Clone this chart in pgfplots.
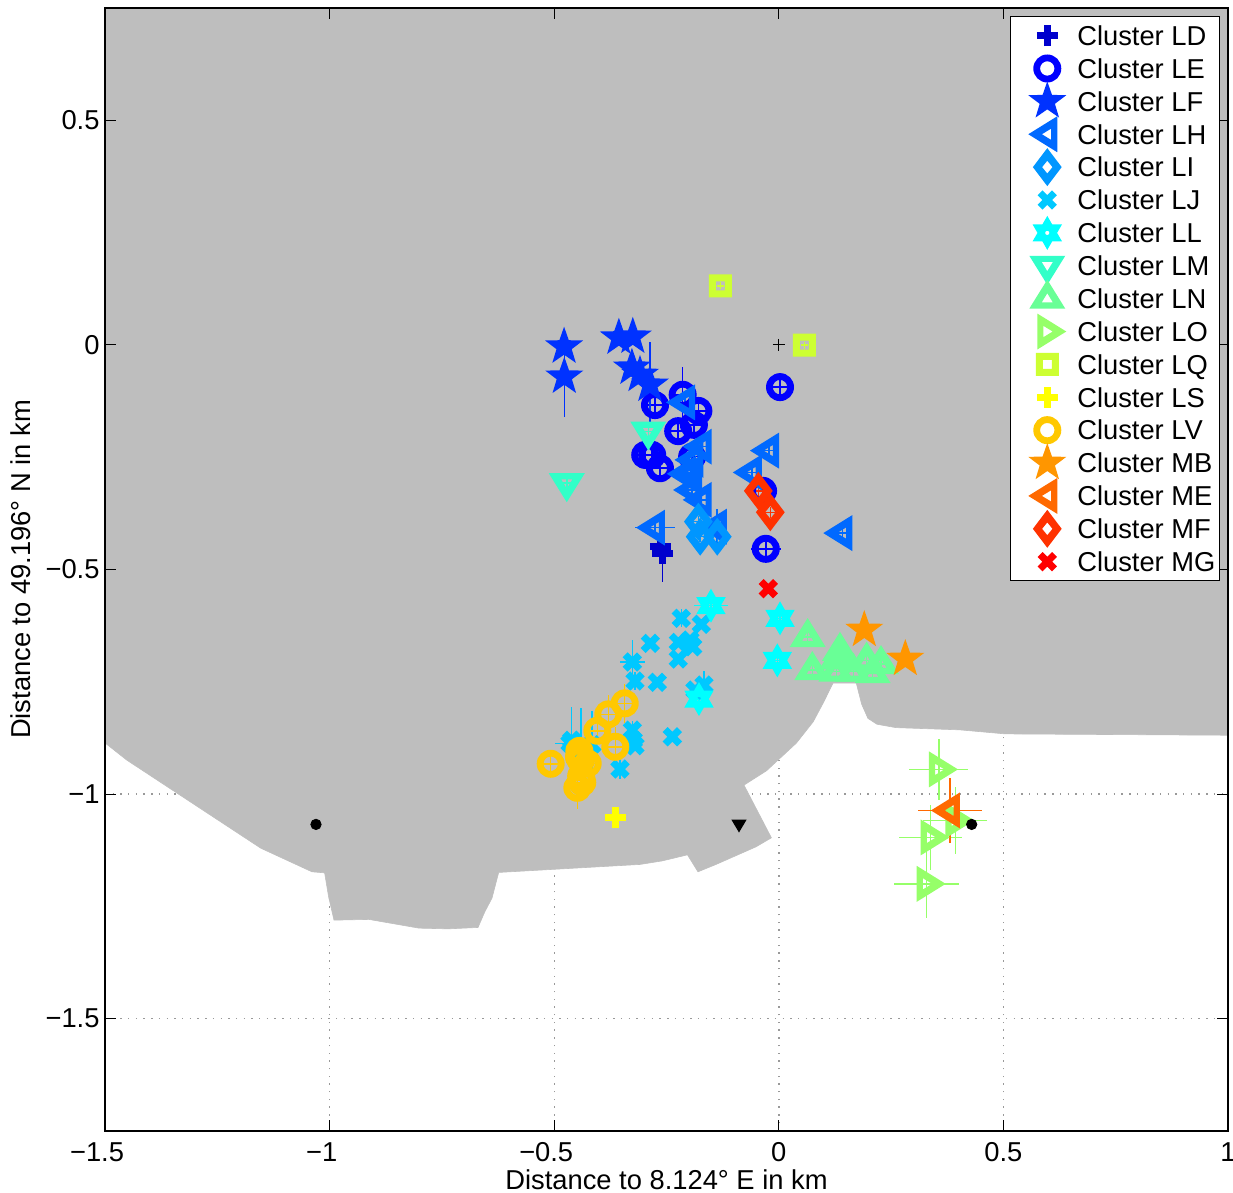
\documentclass[border=0pt]{standalone}
\usepackage{pgfplots}
\pgfplotsset{compat=1.18}
\usepackage{fontspec}
\setmainfont{Liberation Sans}
\definecolor{cLD}{RGB}{0,0,205}
\definecolor{cLE}{RGB}{0,0,255}
\definecolor{cLF}{RGB}{0,50,255}
\definecolor{cLH}{RGB}{0,105,255}
\definecolor{cLI}{RGB}{0,150,255}
\definecolor{cLJ}{RGB}{0,200,255}
\definecolor{cLL}{RGB}{0,255,255}
\definecolor{cLM}{RGB}{50,255,200}
\definecolor{cLN}{RGB}{105,255,150}
\definecolor{cLO}{RGB}{150,255,105}
\definecolor{cLQ}{RGB}{205,255,50}
\definecolor{cLS}{RGB}{255,255,0}
\definecolor{cLV}{RGB}{255,200,0}
\definecolor{cMB}{RGB}{255,150,0}
\definecolor{cME}{RGB}{255,105,0}
\definecolor{cMF}{RGB}{255,50,0}
\definecolor{cMG}{RGB}{255,0,0}
\definecolor{land}{RGB}{190,190,190}
\newcommand\pp[2]{\pgfqpoint{#1pt}{#2pt}}
\newcommand\tri[6]{\pgfpathmoveto{\pp{#1}{#2}}\pgfpathlineto{\pp{#3}{#4}}\pgfpathlineto{\pp{#5}{#6}}\pgfpathclose}
\pgfdeclareplotmark{mplus}{\pgfsetlinewidth{3.5pt}\pgfsetbuttcap
 \pgfpathmoveto{\pp{-5.25}{0}}\pgfpathlineto{\pp{5.25}{0}}\pgfpathmoveto{\pp{0}{-5.25}}\pgfpathlineto{\pp{0}{5.25}}\pgfusepathqstroke}
\pgfdeclareplotmark{mx}{\pgfsetlinewidth{3.5pt}\pgfsetbuttcap
 \pgfpathmoveto{\pp{-3.6}{-3.6}}\pgfpathlineto{\pp{3.6}{3.6}}\pgfpathmoveto{\pp{-3.6}{3.6}}\pgfpathlineto{\pp{3.6}{-3.6}}\pgfusepathqstroke}
\pgfdeclareplotmark{mo}{\pgfseteorule
 \pgfpathcircle{\pgfpointorigin}{7pt}\pgfpathcircle{\pgfpointorigin}{3.6pt}\pgfusepathqfill}
\pgfdeclareplotmark{mleft}{\pgfseteorule\tri{-9.5}{0}{5}{9}{5}{-9}\tri{-2.7}{0}{1.9}{2.8}{1.9}{-2.8}\pgfusepathqfill}
\pgfdeclareplotmark{mright}{\pgfseteorule\tri{9.5}{0}{-5}{9}{-5}{-9}\tri{2.7}{0}{-1.9}{2.8}{-1.9}{-2.8}\pgfusepathqfill}
\pgfdeclareplotmark{mup}{\pgfseteorule\tri{0}{9.5}{9}{-5}{-9}{-5}\tri{0}{2.7}{2.8}{-1.9}{-2.8}{-1.9}\pgfusepathqfill}
\pgfdeclareplotmark{mdown}{\pgfseteorule\tri{0}{-9.5}{9}{5}{-9}{5}\tri{0}{-2.7}{2.8}{1.9}{-2.8}{1.9}\pgfusepathqfill}
\pgfdeclareplotmark{mdiamond}{\pgfseteorule
 \pgfpathmoveto{\pp{0}{9.5}}\pgfpathlineto{\pp{7.2}{0}}\pgfpathlineto{\pp{0}{-9.5}}\pgfpathlineto{\pp{-7.2}{0}}\pgfpathclose
 \pgfpathmoveto{\pp{0}{3.2}}\pgfpathlineto{\pp{2.6}{0}}\pgfpathlineto{\pp{0}{-3.2}}\pgfpathlineto{\pp{-2.6}{0}}\pgfpathclose
 \pgfusepathqfill}
\pgfdeclareplotmark{msquare}{\pgfseteorule
 \pgfpathrectangle{\pp{-5.75}{-5.75}}{\pp{11.5}{11.5}}\pgfpathrectangle{\pp{-2.25}{-2.25}}{\pp{4.5}{4.5}}\pgfusepathqfill}
\pgfdeclareplotmark{mstar}{\pgfpathmoveto{\pgfqpointpolar{90}{10pt}}
 \pgfpathlineto{\pgfqpointpolar{126}{4pt}}\pgfpathlineto{\pgfqpointpolar{162}{10pt}}
 \pgfpathlineto{\pgfqpointpolar{198}{4pt}}\pgfpathlineto{\pgfqpointpolar{234}{10pt}}
 \pgfpathlineto{\pgfqpointpolar{270}{4pt}}\pgfpathlineto{\pgfqpointpolar{306}{10pt}}
 \pgfpathlineto{\pgfqpointpolar{342}{4pt}}\pgfpathlineto{\pgfqpointpolar{18}{10pt}}
 \pgfpathlineto{\pgfqpointpolar{54}{4pt}}\pgfpathclose\pgfusepathqfill}
\pgfdeclareplotmark{mhex}{\pgfseteorule\pgfpathmoveto{\pgfqpointpolar{90}{8.5pt}}
 \pgfpathlineto{\pgfqpointpolar{120}{4.9pt}}\pgfpathlineto{\pgfqpointpolar{150}{8.5pt}}
 \pgfpathlineto{\pgfqpointpolar{180}{4.9pt}}\pgfpathlineto{\pgfqpointpolar{210}{8.5pt}}
 \pgfpathlineto{\pgfqpointpolar{240}{4.9pt}}\pgfpathlineto{\pgfqpointpolar{270}{8.5pt}}
 \pgfpathlineto{\pgfqpointpolar{300}{4.9pt}}\pgfpathlineto{\pgfqpointpolar{330}{8.5pt}}
 \pgfpathlineto{\pgfqpointpolar{0}{4.9pt}}\pgfpathlineto{\pgfqpointpolar{30}{8.5pt}}
 \pgfpathlineto{\pgfqpointpolar{60}{4.9pt}}\pgfpathclose
 \pgfpathcircle{\pgfpointorigin}{1.1pt}\pgfusepathqfill}
\pgfdeclareplotmark{mblack}{\pgfpathmoveto{\pp{0}{-3.2}}\pgfpathlineto{\pp{3.8}{3.2}}\pgfpathlineto{\pp{-3.8}{3.2}}\pgfpathclose\pgfusepathqfill}
\pgfplotsset{
 ser/.style 2 args={only marks,color=#1,mark=#2,
  error bars/.cd,x dir=both,y dir=both,x explicit,y explicit,
  error bar style={line width=0.75pt,color=#1},error mark=none},
 myaxis/.style={scale only axis,width=561.5pt,height=561.5pt,
  xmin=-1.5,xmax=1,ymin=-1.75,ymax=0.75,
  xtick={-1.5,-1,-0.5,0,0.5,1},ytick={-1.5,-1,-0.5,0,0.5}},
}
\begin{document}
\fontsize{13.66}{16}\selectfont
\begin{tikzpicture}
\useasboundingbox (-52.5pt,-31pt) rectangle (564pt,565.5pt);
% grid and land
\begin{axis}[myaxis,grid=major,
  grid style={color=black!40,line width=0.7pt,dash pattern=on 0.7pt off 3.15pt},
  xticklabels={},yticklabels={},major tick length=0pt,axis line style={draw=none}]
\addplot[fill=land,draw=land,line width=0.3pt] table[row sep=\\]{
x y\\
-1.5 0.75\\
1 0.75\\
1 -0.869\\
0.504 -0.866\\
0.403 -0.857\\
0.2605 -0.852\\
0.2185 -0.8445\\
0.1985 -0.8315\\
0.1845 -0.8\\
0.1725 -0.753\\
0.1206 -0.753\\
0.1 -0.795\\
0.0766 -0.839\\
0.0392 -0.8864\\
-0.0274 -0.9481\\
-0.0775 -0.98\\
-0.0165 -1.0973\\
-0.0508 -1.1174\\
-0.1398 -1.1566\\
-0.1799 -1.173\\
-0.2033 -1.1352\\
-0.2589 -1.1486\\
-0.309 -1.1566\\
-0.6236 -1.1744\\
-0.6385 -1.2316\\
-0.6545 -1.2621\\
-0.6696 -1.2969\\
-0.7364 -1.3\\
-0.801 -1.2984\\
-0.9123 -1.279\\
-0.9902 -1.2806\\
-1.0022 -1.2287\\
-1.0111 -1.1753\\
-1.0392 -1.173\\
-1.1534 -1.1203\\
-1.4515 -0.9243\\
-1.5 -0.886\\
};
\end{axis}
% data, frame, labels, legend
\begin{axis}[myaxis,axis on top,
  axis line style={line width=0.6pt},
  major tick length=5.5pt,tick style={line width=0.5pt,black},
  xticklabels={−1.5\hphantom{−},−1\hphantom{−},−0.5\hphantom{−},0,0.5,1},yticklabels={−1.5,−1,−0.5,0,0.5},
  xlabel={Distance to 8.124° E in km},ylabel={Distance to 49.196° N in km},
  xlabel shift=-5.5pt,ylabel shift=-2pt,
  x tick label style={yshift=-1pt},y tick label style={xshift=2pt},
  legend style={at={(0.9929,0.9929)},anchor=north east,cells={anchor=west},
   draw=black,line width=0.6pt,row sep=0pt,inner xsep=0pt,inner ysep=1.3pt,
   nodes={inner xsep=2pt,inner ysep=0pt,text height=13.12pt,text depth=3.32pt}},
  legend image code/.code={\path[draw=none,fill=none] (-18.5pt,0pt) -- (13pt,0pt);
    \path[overlay,#1] plot coordinates {(0pt,0pt)};},
]
\addplot[ser={cLD}{mplus}] table[x=x,y=y,x error=ex,y error=ey,row sep=\\]{
x y ex ey\\
-0.2638 -0.449 0.01 0.01\\
-0.2593 -0.464 0.01 0.063\\
};
\addlegendentry{Cluster LD}
\addplot[ser={cLE}{mo}] table[x=x,y=y,x error=ex,y error=ey,row sep=\\]{
x y ex ey\\
-0.2756 -0.134 0.02 0.02\\
-0.214 -0.111 0.02 0.061\\
-0.179 -0.147 0.02 0.02\\
-0.189 -0.178 0.02 0.02\\
-0.224 -0.192 0.02 0.02\\
-0.2974 -0.245 0.02 0.02\\
-0.2818 -0.245 0.02 0.02\\
-0.2645 -0.2746 0.02 0.02\\
-0.193 -0.249 0.02 0.02\\
0.0027 -0.094 0.02 0.02\\
-0.035 -0.325 0.02 0.02\\
-0.029 -0.454 0.033 0.02\\
};
\addlegendentry{Cluster LE}
\addplot[ser={cLF}{mstar}] table[x=x,y=y,x error=ex,y error=ey,row sep=\\]{
x y ex ey\\
-0.478 -0.004 0.01 0.01\\
-0.4775 -0.071 0.01 0.089\\
-0.356 0.016 0.01 0.01\\
-0.325 0.018 0.01 0.01\\
-0.327 -0.051 0.01 0.01\\
-0.309 -0.067 0.01 0.01\\
-0.287 -0.089 0.01 0.095\\
};
\addlegendentry{Cluster LF}
\addplot[ser={cLH}{mleft}] table[x=x,y=y,x error=ex,y error=ey,row sep=\\]{
x y ex ey\\
-0.2088 -0.128 0.012 0.012\\
-0.1716 -0.2265 0.012 0.012\\
-0.19 -0.256 0.012 0.012\\
-0.194 -0.285 0.012 0.012\\
-0.207 -0.287 0.012 0.012\\
-0.193 -0.323 0.012 0.012\\
-0.1716 -0.345 0.012 0.012\\
-0.0218 -0.2354 0.012 0.012\\
-0.06 -0.284 0.012 0.012\\
-0.2756 -0.4068 0.0445 0.012\\
0.1414 -0.419 0.012 0.012\\
-0.138 -0.4047 0.012 0.04\\
};
\addlegendentry{Cluster LH}
\addplot[ser={cLI}{mdiamond}] table[x=x,y=y,x error=ex,y error=ey,row sep=\\]{
x y ex ey\\
-0.179 -0.3935 0.012 0.012\\
-0.175 -0.427 0.012 0.012\\
-0.137 -0.427 0.012 0.012\\
};
\addlegendentry{Cluster LI}
\addplot[ser={cLJ}{mx}] table[x=x,y=y,x error=ex,y error=ey,row sep=\\]{
x y ex ey\\
-0.217 -0.6087 0.01 0.02\\
-0.1725 -0.622 0.01 0.01\\
-0.286 -0.6644 0.01 0.01\\
-0.2237 -0.6622 0.01 0.01\\
-0.1977 -0.657 0.01 0.01\\
-0.1917 -0.672 0.01 0.01\\
-0.2237 -0.6993 0.01 0.01\\
-0.326 -0.706 0.0285 0.05\\
-0.32 -0.7483 0.01 0.02\\
-0.2705 -0.7512 0.01 0.01\\
-0.1665 -0.7572 0.01 0.032\\
-0.1866 -0.7684 0.01 0.01\\
-0.326 -0.8575 0.01 0.021\\
-0.324 -0.88 0.01 0.01\\
-0.32 -0.8924 0.01 0.01\\
-0.237 -0.8724 0.01 0.01\\
-0.3535 -0.9443 0.01 0.023\\
-0.4648 -0.887 0.0334 0.01\\
-0.4610 -0.88 0.01 0.073\\
-0.4405 -0.8976 0.01 0.09\\
-0.416 -0.89 0.01 0.075\\
};
\addlegendentry{Cluster LJ}
\addplot[ser={cLL}{mhex}] table[x=x,y=y,x error=ex,y error=ey,row sep=\\]{
x y ex ey\\
-0.151 -0.5806 0.037 0.012\\
0.0027 -0.6087 0.012 0.012\\
-0.0033 -0.7023 0.012 0.012\\
-0.1777 -0.7884 0.012 0.012\\
};
\addlegendentry{Cluster LL}
\addplot[ser={cLM}{mdown}] table[x=x,y=y,x error=ex,y error=ey,row sep=\\]{
x y ex ey\\
-0.2905 -0.193 0.012 0.012\\
-0.472 -0.308 0.012 0.012\\
};
\addlegendentry{Cluster LM}
\addplot[ser={cLN}{mup}] table[x=x,y=y,x error=ex,y error=ey,row sep=\\]{
x y ex ey\\
0.0643 -0.6503 0.012 0.012\\
0.0746 -0.7238 0.012 0.012\\
0.1362 -0.681 0.012 0.012\\
0.1362 -0.698 0.012 0.012\\
0.128 -0.7276 0.012 0.012\\
0.1956 -0.7027 0.012 0.012\\
0.2275 -0.7105 0.012 0.012\\
0.209 -0.7305 0.012 0.012\\
0.166 -0.7276 0.012 0.012\\
0.13 -0.70 0.012 0.012\\
};
\addlegendentry{Cluster LN}
\addplot[ser={cLO}{mright}] table[x=x,y=y,x error=ex,y error=ey,row sep=\\]{
x y ex ey\\
0.3566 -0.945 0.0657 0.068\\
0.393 -1.0586 0.0713 0.075\\
0.338 -1.0965 0.0705 0.0727\\
0.3293 -1.1998 0.072 0.0765\\
};
\addlegendentry{Cluster LO}
\addplot[ser={cLQ}{msquare}] table[x=x,y=y,x error=ex,y error=ey,row sep=\\]{
x y ex ey\\
-0.13 0.1314 0.008 0.008\\
0.0568 -0.0007 0.008 0.008\\
};
\addlegendentry{Cluster LQ}
\addplot[ser={cLS}{mplus}] table[x=x,y=y,x error=ex,y error=ey,row sep=\\]{
x y ex ey\\
-0.363 -1.0527 0.01 0.01\\
};
\addlegendentry{Cluster LS}
\addplot[ser={cLV}{mo}] table[x=x,y=y,x error=ex,y error=ey,row sep=\\]{
x y ex ey\\
-0.343 -0.798 0.02 0.043\\
-0.3796 -0.8225 0.02 0.043\\
-0.404 -0.859 0.02 0.02\\
-0.364 -0.8947 0.02 0.043\\
-0.5078 -0.9325 0.02 0.02\\
-0.444 -0.904 0.02 0.02\\
-0.4448 -0.9176 0.02 0.02\\
-0.4405 -0.925 0.02 0.02\\
-0.4254 -0.9316 0.02 0.02\\
-0.44 -0.96 0.02 0.02\\
-0.4375 -0.974 0.02 0.02\\
-0.4485 -0.986 0.02 0.048\\
};
\addlegendentry{Cluster LV}
\addplot[ser={cMB}{mstar}] table[x=x,y=y,x error=ex,y error=ey,row sep=\\]{
x y ex ey\\
0.1903 -0.6347 0.01 0.01\\
0.2816 -0.6993 0.01 0.01\\
};
\addlegendentry{Cluster MB}
\addplot[ser={cME}{mleft}] table[x=x,y=y,x error=ex,y error=ey,row sep=\\]{
x y ex ey\\
0.381 -1.0364 0.0705 0.0727\\
};
\addlegendentry{Cluster ME}
\addplot[ser={cMF}{mdiamond}] table[x=x,y=y,x error=ex,y error=ey,row sep=\\]{
x y ex ey\\
-0.0456 -0.325 0.012 0.012\\
-0.0189 -0.3726 0.012 0.012\\
};
\addlegendentry{Cluster MF}
\addplot[ser={cMG}{mx}] table[x=x,y=y,x error=ex,y error=ey,row sep=\\]{
x y ex ey\\
-0.0234 -0.5427 0.01 0.01\\
};
\addlegendentry{Cluster MG}
\addplot[only marks,forget plot,black,mark=+,mark size=3pt,mark options={line width=0.5pt}] coordinates {(0,0)};
\addplot[only marks,forget plot,black,mark=*,mark size=2.6pt] coordinates {(-1.0303,-1.0675) (0.4294,-1.0675)};
\addplot[only marks,forget plot,black,mark=mblack] coordinates {(-0.0886,-1.0713)};
\end{axis}
\end{tikzpicture}
\end{document}
